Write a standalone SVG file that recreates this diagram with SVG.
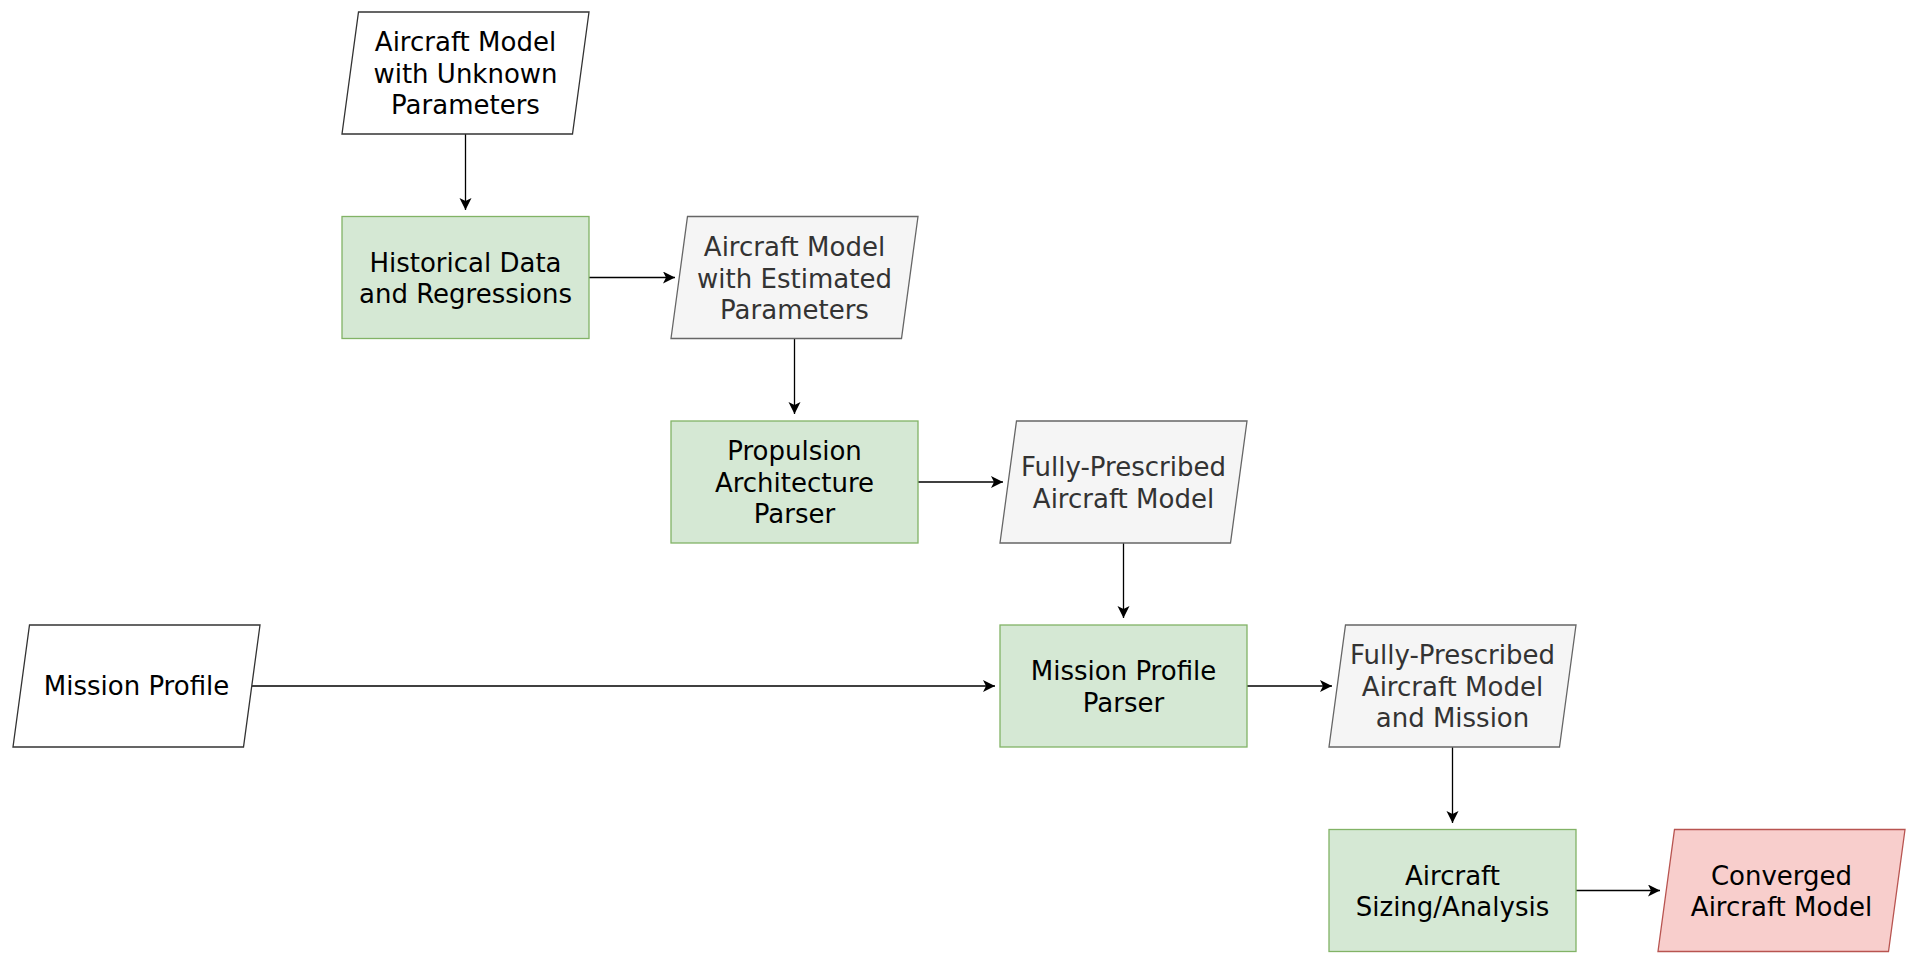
<svg xmlns="http://www.w3.org/2000/svg" width="1920" height="963" viewBox="0 0 1920 963">
<style>
text{font-family:"DejaVu Sans",Verdana,sans-serif;font-size:26px;text-anchor:middle;fill:#000}
.g{fill:#d5e8d4;stroke:#82b366;stroke-width:1.3}
.w{fill:#ffffff;stroke:#333333;stroke-width:1.3}
.s{fill:#f5f5f5;stroke:#666666;stroke-width:1.3}
.r{fill:#f8cecc;stroke:#b85450;stroke-width:1.3}
.gt{fill:#333333}
.e{fill:none;stroke:#000;stroke-width:1.3;marker-end:url(#a)}
</style>
<defs>
<marker id="a" markerUnits="userSpaceOnUse" markerWidth="14" markerHeight="14" refX="12" refY="6" orient="auto">
<path d="M0,0 L12,6 L0,12 L3,6 Z" fill="#000"/>
</marker>
</defs>
<rect width="1920" height="963" fill="#ffffff"/>
<g id="edges">
<line class="e" x1="465.5" y1="134" x2="465.5" y2="210"/>
<line class="e" x1="589" y1="277.5" x2="675" y2="277.5"/>
<line class="e" x1="794.5" y1="338.5" x2="794.5" y2="414"/>
<line class="e" x1="918" y1="482" x2="1003" y2="482"/>
<line class="e" x1="1123.5" y1="543" x2="1123.5" y2="618"/>
<line class="e" x1="252" y1="686" x2="995" y2="686"/>
<line class="e" x1="1247" y1="686" x2="1332" y2="686"/>
<line class="e" x1="1452.5" y1="747" x2="1452.5" y2="823"/>
<line class="e" x1="1576" y1="890.5" x2="1660" y2="890.5"/>
</g>
<g id="n1">
<polygon class="w" points="358.5,12 589,12 572.5,134 342,134"/>
<text x="465.5" y="51">Aircraft Model</text>
<text x="465.5" y="82.5">with Unknown</text>
<text x="465.5" y="114">Parameters</text>
</g>
<g id="n2">
<rect class="g" x="342" y="216.5" width="247" height="122"/>
<text x="465.5" y="271.5">Historical Data</text>
<text x="465.5" y="303">and Regressions</text>
</g>
<g id="n3">
<polygon class="s" points="687.5,216.5 918,216.5 901.5,338.5 671,338.5"/>
<text class="gt" x="794.5" y="256">Aircraft Model</text>
<text class="gt" x="794.5" y="287.5">with Estimated</text>
<text class="gt" x="794.5" y="319">Parameters</text>
</g>
<g id="n4">
<rect class="g" x="671" y="421" width="247" height="122"/>
<text x="794.5" y="460">Propulsion</text>
<text x="794.5" y="491.5">Architecture</text>
<text x="794.5" y="523">Parser</text>
</g>
<g id="n5">
<polygon class="s" points="1016.5,421 1247,421 1230.5,543 1000,543"/>
<text class="gt" x="1123.5" y="476">Fully-Prescribed</text>
<text class="gt" x="1123.5" y="507.5">Aircraft Model</text>
</g>
<g id="n6">
<polygon class="w" points="29.5,625 260,625 243.5,747 13,747"/>
<text x="136.5" y="695">Mission Profile</text>
</g>
<g id="n7">
<rect class="g" x="1000" y="625" width="247" height="122"/>
<text x="1123.5" y="680">Mission Profile</text>
<text x="1123.5" y="711.5">Parser</text>
</g>
<g id="n8">
<polygon class="s" points="1345.5,625 1576,625 1559.5,747 1329,747"/>
<text class="gt" x="1452.5" y="664">Fully-Prescribed</text>
<text class="gt" x="1452.5" y="695.5">Aircraft Model</text>
<text class="gt" x="1452.5" y="727">and Mission</text>
</g>
<g id="n9">
<rect class="g" x="1329" y="829.5" width="247" height="122"/>
<text x="1452.5" y="884.5">Aircraft</text>
<text x="1452.5" y="916">Sizing/Analysis</text>
</g>
<g id="n10">
<polygon class="r" points="1674.5,829.5 1905,829.5 1888.5,951.5 1658,951.5"/>
<text x="1781.5" y="884.5">Converged</text>
<text x="1781.5" y="916">Aircraft Model</text>
</g>
</svg>
